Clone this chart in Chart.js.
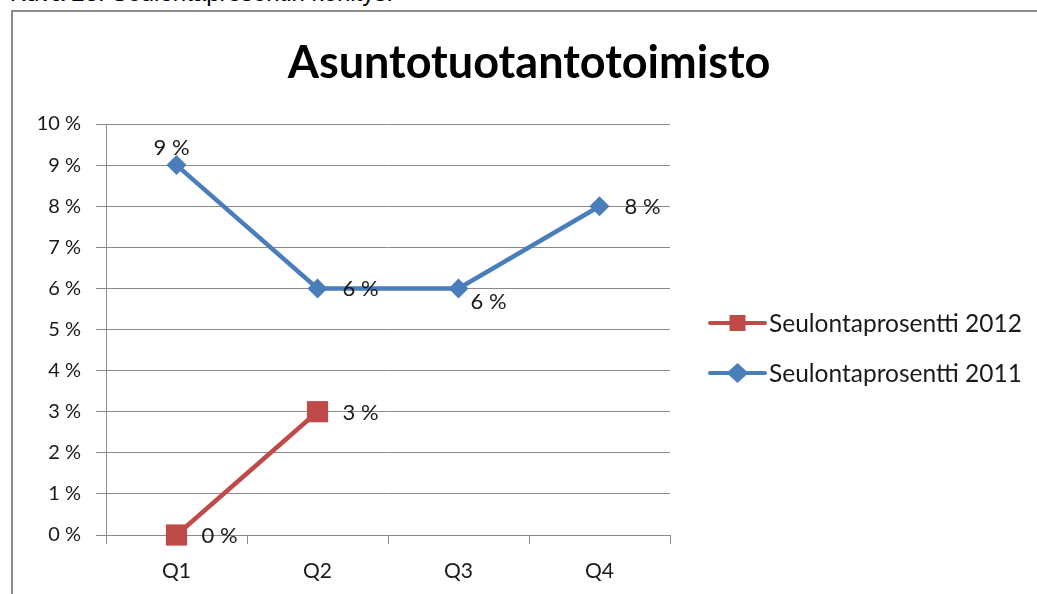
<!DOCTYPE html>
<html>
<head>
<meta charset="utf-8">
<script src="https://cdn.jsdelivr.net/npm/chart.js@4/dist/chart.umd.min.js"></script>
<style>
  html, body { margin:0; padding:0; background:#fff; overflow:hidden; }
  #caption { position:absolute; left:10px; top:-19px; font:24px/24px "Liberation Sans", Arial, sans-serif; color:#000; white-space:nowrap; }
  #frame { position:absolute; left:11px; top:10px; width:1100px; height:700px; border:2px solid #8c8c8c; box-sizing:border-box; }
  #wrap { position:absolute; left:0; top:0; width:1037px; height:594px; }
</style>
</head>
<body>
<div id="caption">Kuva 23. Seulontaprosentin kehitys.</div>
<div id="frame"></div>
<div id="wrap"><canvas id="chart"></canvas></div>
<script>
// values in percent
const quarters = ['Q1','Q2','Q3','Q4'];
const seulonta2012 = [0, 3, null, null];
const seulonta2011 = [9, 6, 6, 8];
const yTicks = [0,1,2,3,4,5,6,7,8,9,10];
const chartTitle = 'Asuntotuotantotoimisto';

// where each data label sits relative to its point
const labelPos2012 = ['right','right'];
const labelPos2011 = ['above','right','belowRight','right'];

const FONT = 'Lato, "Open Sans", sans-serif';
const gridColor = '#8a8a8a';
const textColor = '#1a1a1a';

const titleDraw = {
    id:'titleDraw',
    afterDraw(chart){
        const ctx = chart.ctx;
        ctx.save();
        ctx.font = 'bold 45px ' + FONT;
        ctx.fillStyle = '#000';
        ctx.textAlign = 'center';
        ctx.textBaseline = 'alphabetic';
        ctx.fillText(chartTitle, 529, 78);
        ctx.restore();
    }
};

const pointLabels = {
    id:'pointLabels',
    afterDatasetsDraw(chart){
        const ctx = chart.ctx;
        ctx.save();
        ctx.font = '22px ' + FONT;
        ctx.fillStyle = textColor;
        ctx.textBaseline = 'middle';
        chart.data.datasets.forEach((ds, i) => {
            const meta = chart.getDatasetMeta(i);
            meta.data.forEach((pt, j) => {
                const v = ds.data[j];
                if(v === null || v === undefined) return;
                const txt = v + ' %';
                const pos = ds.labelPos[j];
                if(pos === 'above'){
                    ctx.textAlign = 'center';
                    ctx.fillText(txt, pt.x - 5, pt.y - 17);
                } else if(pos === 'belowRight'){
                    ctx.textAlign = 'left';
                    ctx.fillText(txt, pt.x + 12, pt.y + 14);
                } else {
                    ctx.textAlign = 'left';
                    ctx.fillText(txt, pt.x + 25, pt.y + 1);
                }
            });
        });
        ctx.restore();
    }
};

const sideLegend = {
    id:'sideLegend',
    afterDraw(chart){
        const ctx = chart.ctx;
        const x0 = 710, x1 = 765, c = (x0 + x1) / 2;
        const rows = [{ds:0, y:323}, {ds:1, y:373}];
        ctx.save();
        rows.forEach(r => {
            const ds = chart.data.datasets[r.ds];
            ctx.strokeStyle = ds.borderColor;
            ctx.lineWidth = 4;
            ctx.lineCap = 'round';
            ctx.beginPath();
            ctx.moveTo(x0, r.y);
            ctx.lineTo(x1, r.y);
            ctx.stroke();
            ctx.fillStyle = ds.pointBackgroundColor;
            ctx.beginPath();
            if(ds.pointStyle === 'rect'){
                ctx.rect(c - 8, r.y - 8, 16, 16);
            } else {
                ctx.moveTo(c, r.y - 10); ctx.lineTo(c + 11, r.y); ctx.lineTo(c, r.y + 10); ctx.lineTo(c - 11, r.y);
                ctx.closePath();
            }
            ctx.fill();
            ctx.fillStyle = textColor;
            ctx.font = '24.5px ' + FONT;
            ctx.textAlign = 'left';
            ctx.textBaseline = 'middle';
            ctx.fillText(ds.label, 769, r.y + 1);
        });
        ctx.restore();
    }
};

new Chart(document.getElementById('chart').getContext('2d'), {
    type:'line',
    data:{
        labels:quarters,
        datasets:[
            {label:'Seulontaprosentti 2012', data:seulonta2012, labelPos:labelPos2012, clip:false,
             borderColor:'#be4b48', backgroundColor:'#be4b48', pointBackgroundColor:'#be4b48',
             pointBorderWidth:0, borderWidth:4.5, pointStyle:'rect', pointRadius:15, pointHoverRadius:15, tension:0},
            {label:'Seulontaprosentti 2011', data:seulonta2011, labelPos:labelPos2011, clip:false,
             borderColor:'#4a7ebb', backgroundColor:'#4a7ebb', pointBackgroundColor:'#4a7ebb',
             pointBorderWidth:0, borderWidth:4.5, pointStyle:'rectRot', pointRadius:10, pointHoverRadius:10, tension:0}
        ]
    },
    options:{
        responsive:true, maintainAspectRatio:false, animation:false,
        layout:{padding:{left:0, right:367, top:124, bottom:0}},
        plugins:{
            legend:{display:false},
            tooltip:{enabled:false},
            title:{display:false}
        },
        scales:{
            x:{
                offset:true,
                grid:{offset:true, drawOnChartArea:false, drawTicks:true, tickLength:9, color:gridColor},
                border:{display:true, color:gridColor},
                ticks:{color:textColor, font:{family:FONT, size:21}, padding:15},
                afterFit(s){ s.height = 59; }
            },
            y:{
                min:0, max:10,
                afterBuildTicks(s){ s.ticks = yTicks.map(v => ({value:v})); },
                grid:{color:gridColor, tickLength:10},
                border:{display:true, color:gridColor},
                ticks:{color:textColor, font:{family:FONT, size:20}, padding:15, callback:v => v + ' %'},
                afterFit(s){ s.width = 106; }
            }
        }
    },
    plugins:[pointLabels, sideLegend, titleDraw]
});
</script>
</body>
</html>
